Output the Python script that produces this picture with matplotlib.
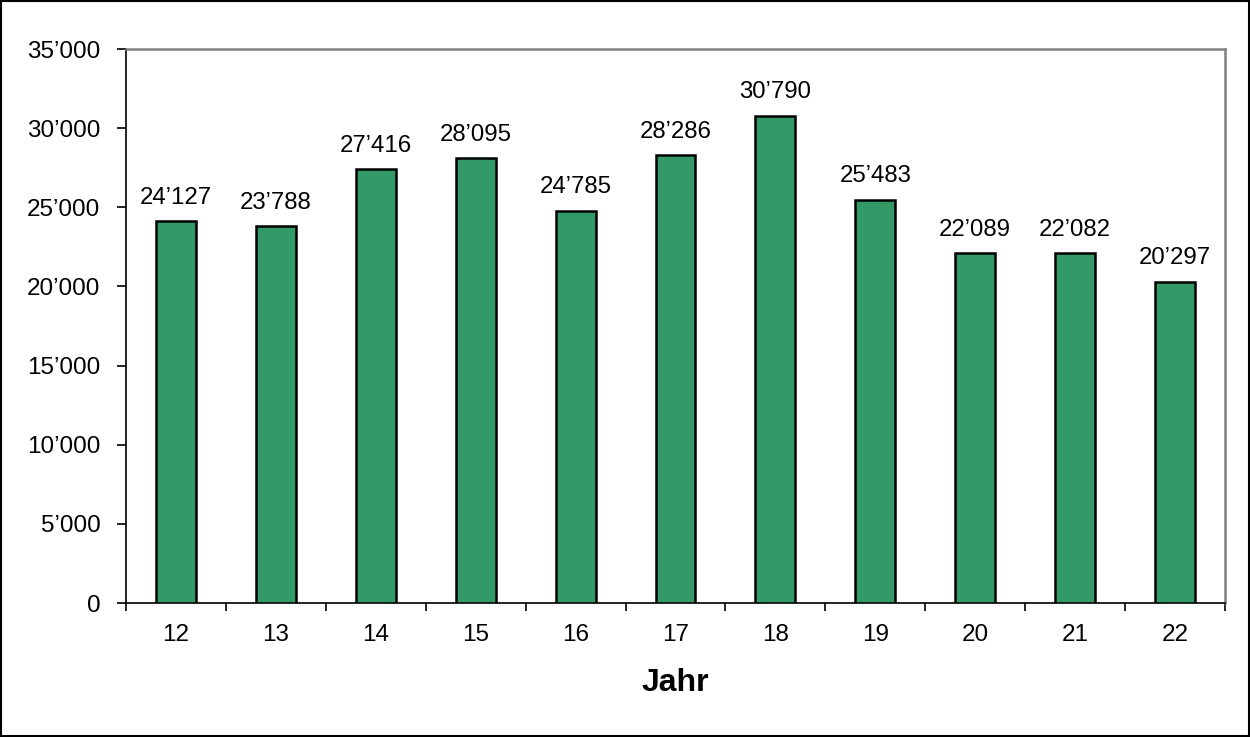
import matplotlib
matplotlib.use("Agg")
import matplotlib.pyplot as plt
from matplotlib.ticker import FuncFormatter, MultipleLocator, FixedLocator
import numpy as np

plt.rcParams['font.family'] = ['Liberation Sans', 'DejaVu Sans']

years = ["12", "13", "14", "15", "16", "17", "18", "19", "20", "21", "22"]
values = [24127, 23788, 27416, 28095, 24785, 28286, 30790, 25483, 22089, 22082, 20297]
xlabel = "Jahr"

def fmt(v):
    s = f"{int(round(v)):,}".replace(",", "\u2019")
    return s

fig = plt.figure(figsize=(12.5, 7.37), dpi=100)
ax = fig.add_axes([126/1250, 1-603/737, (1225-126)/1250, (603-49)/737])

x = np.arange(len(years))
bars = ax.bar(x, values, width=0.4, color="#339966", edgecolor="black", linewidth=1.8, zorder=3)

for xi, v in zip(x, values):
    ax.annotate(fmt(v), (xi, v), xytext=(0, 9), textcoords="offset points",
                ha="center", va="bottom", fontsize=17.3, color="black")

ax.set_xlim(-0.5, len(years) - 0.5)
ax.set_ylim(0, 35000)
ax.yaxis.set_major_locator(MultipleLocator(5000))
ax.yaxis.set_major_formatter(FuncFormatter(lambda v, p: fmt(v)))
ax.set_xticks(x)
ax.set_xticklabels(years)
ax.xaxis.set_minor_locator(FixedLocator(np.arange(-0.5, len(years), 1.0)))
ax.tick_params(axis="x", which="major", length=0, pad=15, labelsize=17.5)
ax.tick_params(axis="x", which="minor", length=6, width=1.2, direction="out", color="black")
ax.tick_params(axis="y", which="major", length=6.5, width=1.2, direction="out", pad=12, labelsize=17.5)

for side in ["left", "bottom"]:
    ax.spines[side].set_color("black")
    ax.spines[side].set_linewidth(1.2)
for side in ["top", "right"]:
    ax.spines[side].set_color("#808080")
    ax.spines[side].set_linewidth(1.8)

ax.set_xlabel(xlabel, fontsize=23, fontweight="bold", labelpad=16)

# figure border
fig.patches.append(plt.Rectangle((0.001, 0.001), 0.998, 0.997, transform=fig.transFigure,
                                 fill=False, edgecolor="black", linewidth=1.5))

fig.savefig("out.png", dpi=100)
